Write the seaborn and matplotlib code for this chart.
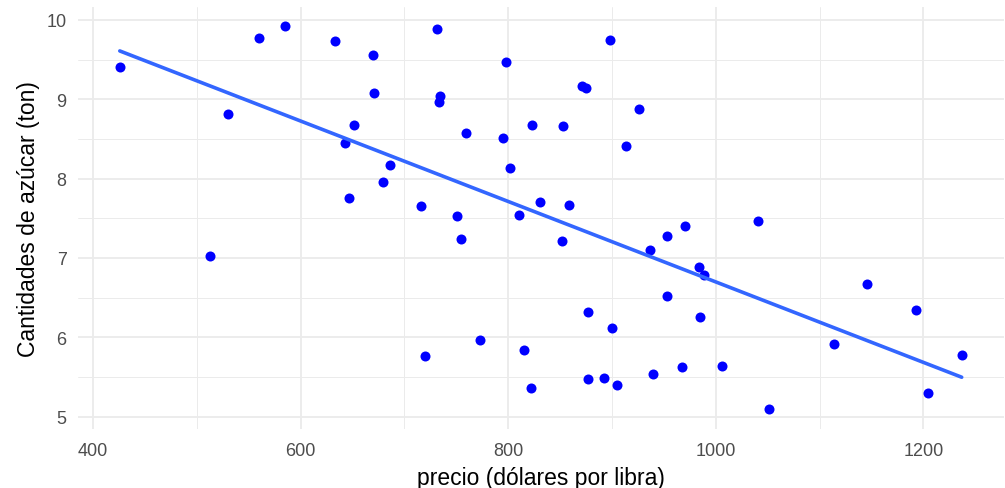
import matplotlib
matplotlib.use("Agg")
import matplotlib.pyplot as plt
import seaborn as sns
import pandas as pd
from matplotlib.ticker import MultipleLocator

# Precio por libra (dólares) y cantidad de azúcar (ton)
precio = [
    425.7, 512.8, 529.8, 559.4, 584.8, 633.0, 670.0, 670.6, 651.0, 642.3,
    685.7, 678.9, 646.2, 715.6, 731.7, 734.5, 733.5, 759.0, 750.8, 754.7,
    719.4, 772.4, 797.5, 794.9, 801.6, 810.6, 815.2, 822.2, 822.7, 830.2,
    852.7, 858.5, 852.1, 870.7, 874.6, 876.8, 876.5, 891.9, 898.0, 900.2,
    904.5, 913.2, 925.7, 936.9, 939.8, 952.6, 953.0, 967.1, 970.0, 984.1,
    988.3, 984.5, 1006.3, 1040.6, 1051.6, 1113.9, 1145.4, 1193.0, 1204.8, 1237.0,
]
cantidad = [
    9.40, 7.03, 8.81, 9.77, 9.92, 9.73, 9.56, 9.08, 8.67, 8.45,
    8.17, 7.96, 7.75, 7.66, 9.88, 9.04, 8.97, 8.57, 7.53, 7.24,
    5.76, 5.97, 9.47, 8.51, 8.13, 7.54, 5.84, 5.36, 8.68, 7.70,
    8.66, 7.67, 7.21, 9.17, 9.14, 6.32, 5.47, 5.49, 9.75, 6.12,
    5.40, 8.41, 8.88, 7.10, 5.54, 6.52, 7.27, 5.63, 7.40, 6.89,
    6.78, 6.25, 5.64, 7.46, 5.09, 5.92, 6.67, 6.34, 5.30, 5.77,
]
x_ticks = [400, 600, 800, 1000, 1200]
y_ticks = [5, 6, 7, 8, 9, 10]

df = pd.DataFrame({"precio": precio, "cantidad": cantidad})

sns.set_style("white")
plt.rcParams["font.family"] = ["Liberation Sans", "DejaVu Sans"]

fig = plt.figure(figsize=(10.05, 4.89), dpi=100)
ax = fig.add_axes([0.0773, 0.1215, 0.9215, 0.862])

sns.regplot(
    data=df, x="precio", y="cantidad", ci=None, ax=ax,
    scatter_kws=dict(color="#0000FF", s=52, linewidths=0, alpha=1, zorder=3),
    line_kws=dict(color="#3366FF", lw=2.6, zorder=4),
)

# expanded limits (5% each side)
xmin, xmax = min(precio), max(precio)
ymin, ymax = min(cantidad), max(cantidad)
dx, dy = (xmax - xmin) * 0.05, (ymax - ymin) * 0.05
ax.set_xlim(xmin - dx, xmax + dx)
ax.set_ylim(ymin - dy, ymax + dy)

ax.set_xticks(x_ticks)
ax.set_yticks(y_ticks)
ax.xaxis.set_minor_locator(MultipleLocator(100))
ax.yaxis.set_minor_locator(MultipleLocator(0.5))
ax.grid(True, which="major", color="#EBEBEB", lw=1.3, zorder=0)
ax.grid(True, which="minor", color="#EBEBEB", lw=0.7, zorder=0)
ax.set_axisbelow(True)
for s in ax.spines.values():
    s.set_visible(False)
ax.tick_params(which="both", length=0)
ax.tick_params(axis="x", pad=10, labelsize=13, labelcolor="#4D4D4D")
ax.tick_params(axis="y", pad=8, labelsize=13, labelcolor="#4D4D4D")

ax.set_xlabel("precio (dólares por libra)", fontsize=16.5, color="black", labelpad=5)
ax.set_ylabel("Cantidades de azúcar (ton)", fontsize=16.5, color="black", labelpad=5)

fig.savefig("out.png", dpi=100)
